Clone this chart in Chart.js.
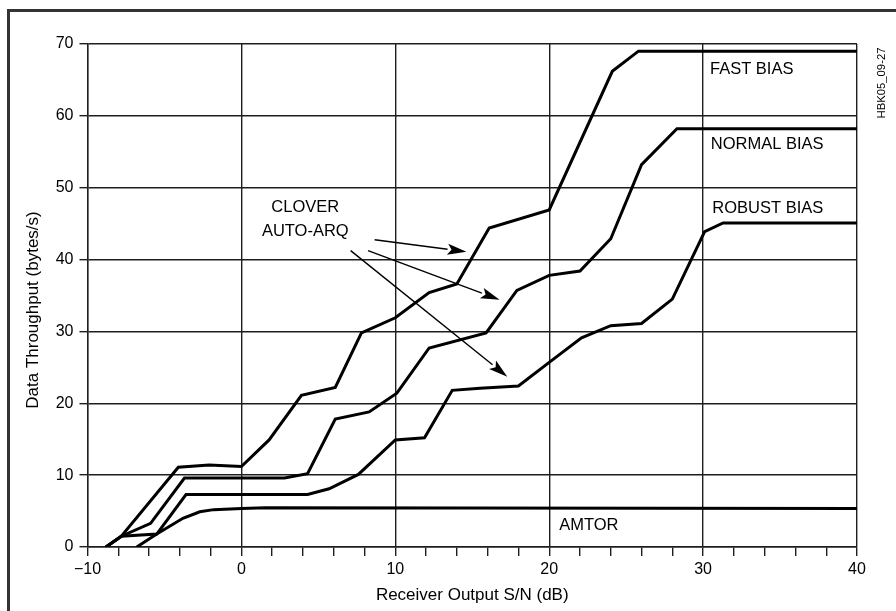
<!DOCTYPE html>
<html>
<head>
<meta charset="utf-8">
<script src="https://cdn.jsdelivr.net/npm/chart.js@4/dist/chart.umd.min.js"></script>
<style>
    html, body { margin: 0; padding: 0; background: #fff; }
    #wrap { width: 896px; height: 611px; position: relative; }
</style>
</head>
<body>
<div id="wrap"><canvas id="throughput_chart"></canvas></div>
<script>
// values: receiver S/N (dB) vs throughput (bytes/s)
const fastSnr = [-8.8, -7.8, -4.1, -2.1, 0, 1.8, 3.9, 6.1, 7.8, 10, 12.2, 14, 16.1, 20, 24.1, 25.8, 40];
const fastRate = [0, 1.5, 11.1, 11.4, 11.2, 14.9, 21.1, 22.2, 29.8, 31.9, 35.4, 36.6, 44.4, 46.9, 66.2, 69, 69];

const normalSnr = [-8.8, -7.8, -5.9, -3.7, 2.8, 4.3, 6.1, 8.3, 10.1, 12.2, 15.9, 17.9, 20, 22, 24, 26, 28.3, 40];
const normalRate = [0, 1.5, 3.3, 9.6, 9.6, 10.2, 17.8, 18.8, 21.4, 27.7, 29.8, 35.7, 37.8, 38.4, 42.9, 53.2, 58.2, 58.2];

const robustSnr = [-8.8, -7.8, -5.5, -3.6, 4.3, 5.7, 7.6, 10, 11.9, 13.7, 15.5, 18, 20, 22.1, 24, 26, 28, 30.1, 31.3, 40];
const robustRate = [0, 1.5, 1.8, 7.3, 7.3, 8.1, 10.1, 14.9, 15.2, 21.8, 22.1, 22.4, 25.7, 29.1, 30.8, 31.1, 34.5, 43.9, 45.1, 45.1];

const amtorSnr = [-6.8, -5.5, -3.8, -2.7, -1.8, 0, 1.6, 40];
const amtorRate = [0, 1.8, 4.0, 4.9, 5.2, 5.35, 5.45, 5.35];

const xLabelTicks = [-10, 0, 10, 20, 30, 40];
const yLabelTicks = [0, 10, 20, 30, 40, 50, 60, 70];

const seriesNames = ["FAST BIAS", "NORMAL BIAS", "ROBUST BIAS", "AMTOR"];

// text labels and arrows, placed in data units
const curveLabels = [
    { text: "FAST BIAS", x: 30.45, y: 66.4 },
    { text: "NORMAL BIAS", x: 30.5, y: 56.0 },
    { text: "ROBUST BIAS", x: 30.6, y: 47.1 },
    { text: "AMTOR", x: 20.65, y: 3.0 },
];
const cloverLabel = { lines: ["CLOVER", "AUTO-ARQ"], x: 4.15, y: [47.2, 43.9] };
const cloverArrows = [
    { from: [8.66, 42.75], to: [14.62, 41.1] },
    { from: [8.23, 41.24], to: [16.78, 34.4] },
    { from: [7.1, 41.24], to: [17.28, 23.7] },
];

const INK = "#000";
const GRID = "#1e1e1e";
const FONT = "'Liberation Sans', Arial, sans-serif";

function toPoints(xs, ys) {
    return xs.map((v, i) => ({ x: v, y: ys[i] }));
}

function line(label, xs, ys) {
    return {
        label,
        data: toPoints(xs, ys),
        borderColor: INK,
        backgroundColor: INK,
        borderWidth: 3,
        pointRadius: 0,
        tension: 0,
        fill: false,
    };
}

const decorations = {
    id: "decorations",
    beforeDraw(chart) {
        const ctx = chart.ctx;
        ctx.save();
        ctx.strokeStyle = "#333";
        ctx.lineWidth = 3;
        ctx.beginPath();
        ctx.moveTo(8.5, chart.height);
        ctx.lineTo(8.5, 10.5);
        ctx.lineTo(chart.width, 10.5);
        ctx.stroke();
        ctx.restore();
    },
    afterDatasetsDraw(chart) {
        const { ctx, scales: { x, y } } = chart;
        ctx.save();
        ctx.fillStyle = INK;
        ctx.font = "16.5px " + FONT;
        ctx.textBaseline = "middle";

        ctx.textAlign = "left";
        curveLabels.forEach(l => {
            ctx.fillText(l.text, x.getPixelForValue(l.x), y.getPixelForValue(l.y));
        });

        ctx.textAlign = "center";
        cloverLabel.lines.forEach((t, i) => {
            ctx.fillText(t, x.getPixelForValue(cloverLabel.x), y.getPixelForValue(cloverLabel.y[i]));
        });

        ctx.strokeStyle = INK;
        ctx.lineWidth = 1.4;
        cloverArrows.forEach(a => {
            const x0 = x.getPixelForValue(a.from[0]), y0 = y.getPixelForValue(a.from[1]);
            const x1 = x.getPixelForValue(a.to[0]), y1 = y.getPixelForValue(a.to[1]);
            const ang = Math.atan2(y1 - y0, x1 - x0);
            const len = 19, half = 5.5;
            const bx = x1 - len * Math.cos(ang), by = y1 - len * Math.sin(ang);
            ctx.beginPath();
            ctx.moveTo(x0, y0);
            ctx.lineTo(bx, by);
            ctx.stroke();
            ctx.beginPath();
            ctx.moveTo(x1, y1);
            ctx.lineTo(bx + half * Math.sin(ang), by - half * Math.cos(ang));
            ctx.lineTo(x1 - (len - 4) * Math.cos(ang), y1 - (len - 4) * Math.sin(ang));
            ctx.lineTo(bx - half * Math.sin(ang), by + half * Math.cos(ang));
            ctx.closePath();
            ctx.fill();
        });

        // y axis title, drawn by hand so it sits where the original has it
        ctx.font = "17px " + FONT;
        ctx.save();
        ctx.translate(33, 310);
        ctx.rotate(-Math.PI / 2);
        ctx.fillText("Data Throughput (bytes/s)", 0, 0);
        ctx.restore();

        // figure id in the right margin
        ctx.font = "11.3px " + FONT;
        ctx.save();
        ctx.translate(881.5, 83);
        ctx.rotate(-Math.PI / 2);
        ctx.fillText("HBK05_09-27", 0, 0);
        ctx.restore();
        ctx.restore();
    },
};

const config = {
    type: "line",
    data: {
        datasets: [
            line(seriesNames[0], fastSnr, fastRate),
            line(seriesNames[1], normalSnr, normalRate),
            line(seriesNames[2], robustSnr, robustRate),
            line(seriesNames[3], amtorSnr, amtorRate),
        ],
    },
    options: {
        responsive: true,
        maintainAspectRatio: false,
        animation: false,
        layout: { padding: { left: 0, right: 39, top: 44, bottom: 0 } },
        plugins: {
            legend: { display: false },
            tooltip: { enabled: false },
        },
        scales: {
            x: {
                type: "linear",
                min: -10,
                max: 40,
                afterFit: s => { s.height = 64; },
                ticks: {
                    stepSize: 2,
                    autoSkip: false,
                    maxRotation: 0,
                    padding: 4,
                    color: INK,
                    font: { family: FONT, size: 16 },
                    callback: v => xLabelTicks.includes(v) ? String(v).replace("-", "\u2212") : "",
                },
                grid: {
                    color: c => (c.tick && c.tick.value % 10 === 0) ? GRID : "rgba(0,0,0,0)",
                    tickColor: GRID,
                    lineWidth: 1.4,
                    tickWidth: 1.4,
                    tickLength: 9,
                },
                border: { color: GRID, width: 1.4 },
                title: {
                    display: true,
                    text: "Receiver Output S/N (dB)",
                    color: INK,
                    font: { family: FONT, size: 17 },
                    padding: { top: 0, bottom: 5 },
                },
            },
            y: {
                min: 0,
                max: 70,
                afterFit: s => { s.width = 87.5; },
                ticks: {
                    stepSize: 10,
                    padding: 6,
                    color: INK,
                    font: { family: FONT, size: 16 },
                    callback: v => yLabelTicks.includes(v) ? String(v) : "",
                },
                grid: {
                    color: GRID,
                    lineWidth: 1.4,
                    tickLength: 8,
                },
                border: { color: GRID, width: 1.4 },
            },
        },
    },
    plugins: [decorations],
};

const throughput_chart = new Chart(document.getElementById("throughput_chart"), config);
</script>
</body>
</html>
